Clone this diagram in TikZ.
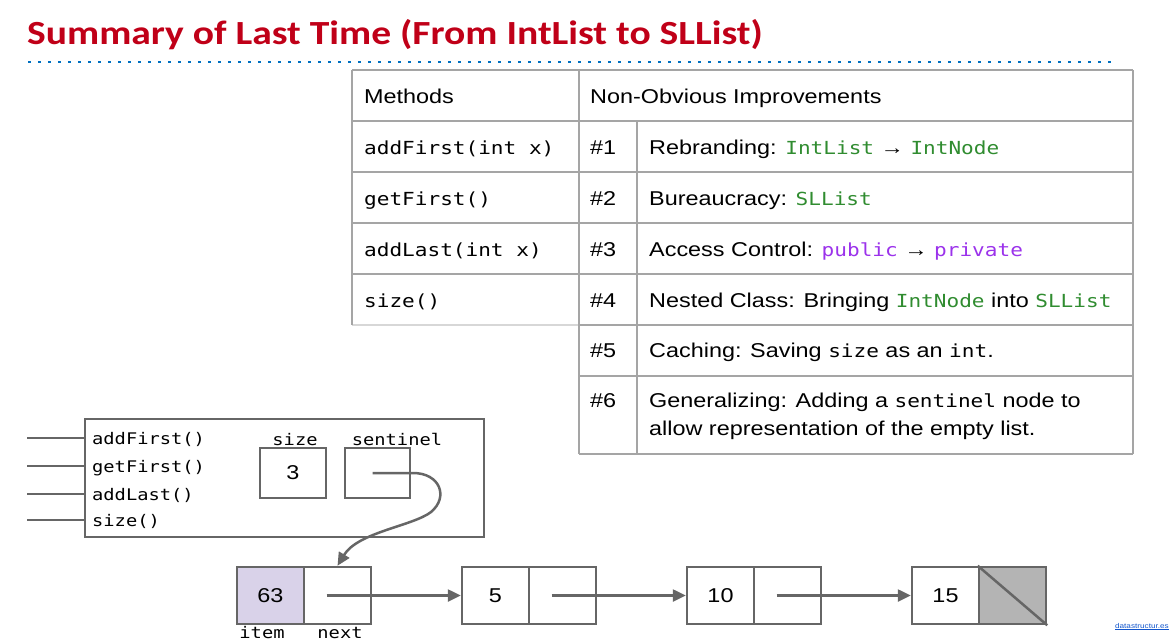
\documentclass[tikz,border=0pt]{standalone}
\usepackage{fontspec}
\setmainfont{Liberation Sans}[FakeStretch=1.17]
\newfontfamily\titlefont{Carlito}[FakeStretch=1.17]
\newfontfamily\cmono{DejaVu Sans Mono}[FakeStretch=1.17]
\usetikzlibrary{arrows.meta}
\definecolor{titlered}{RGB}{192,0,24}
\definecolor{dotblue}{RGB}{0,112,192}
\definecolor{tabline}{RGB}{165,165,165}
\definecolor{tablight}{RGB}{215,215,215}
\definecolor{boxline}{RGB}{102,102,102}
\definecolor{codegreen}{RGB}{48,140,48}
\definecolor{codepurple}{RGB}{155,50,235}
\definecolor{itemfill}{RGB}{217,210,233}
\definecolor{nullfill}{RGB}{180,180,180}
\definecolor{linkblue}{RGB}{17,85,204}
\newcommand{\tg}[1]{{\cmono\fontsize{18}{22}\selectfont\color{codegreen}#1}}
\newcommand{\tp}[1]{{\cmono\fontsize{18}{22}\selectfont\color{codepurple}#1}}
\newcommand{\tm}[1]{{\cmono\fontsize{18}{22}\selectfont #1}}
\tikzset{
  tab/.style={draw=tabline, line width=1.3pt},
  ttext/.style={anchor=base west, inner sep=0pt, font=\fontsize{20}{28}\selectfont},
  mtext/.style={anchor=base west, inner sep=0pt, font=\cmono\fontsize{18}{22}\selectfont},
  ltext/.style={anchor=base west, inner sep=0pt, font=\cmono\fontsize{16}{20}\selectfont},
  clabel/.style={anchor=base, inner sep=0pt, font=\cmono\fontsize{16}{20}\selectfont},
  gline/.style={draw=boxline, line width=2.5pt},
  cell/.style={gline, minimum width=67pt, minimum height=57pt, inner sep=0pt, font=\fontsize{20}{24}\selectfont},
  ptr/.style={gline, -{Triangle[length=13pt,width=12pt]}},
}
\begin{document}
\begin{tikzpicture}[x=1pt,y=-1pt]
\useasboundingbox (0,0) rectangle (1171,640);
% title
\node[anchor=base west, inner sep=0pt, text=titlered, font=\titlefont\bfseries\fontsize{33.8}{40}\selectfont] (title) at (27,44) {Summary of Last Time (From IntList to SLList)};
\draw[dotblue, line width=2.6pt, dash pattern=on 2.6pt off 7.4pt] (28,62) -- (1116,62);
% table lines
\draw[tab] (352,70) -- (1133,70);
\foreach \y in {121,172,223,274} \draw[tab] (352,\y) -- (1133,\y);
\draw[draw=tablight, line width=1.3pt] (352,325) -- (579,325);
\draw[tab] (579,325) -- (1133,325);
\draw[tab] (579,376) -- (1133,376);
\draw[tab] (579,454) -- (1133,454);
\draw[tab] (352,70) -- (352,325);
\draw[tab] (579,70) -- (579,454);
\draw[tab] (637,121) -- (637,454);
\draw[tab] (1133,70) -- (1133,454);
% table text
\node[ttext] (h1) at (364,103) {Methods};
\node[ttext] (h2) at (590,103) {Non-Obvious Improvements};
\node[mtext] (m1) at (364,154) {addFirst(int x)};
\node[mtext] (m2) at (364,205) {getFirst()};
\node[mtext] (m3) at (364,256) {addLast(int x)};
\node[mtext] (m4) at (364,307) {size()};
\node[ttext] (n1) at (590,154) {\#1};
\node[ttext] (n2) at (590,205) {\#2};
\node[ttext] (n3) at (590,256) {\#3};
\node[ttext] (n4) at (590,307) {\#4};
\node[ttext] (n5) at (590,357) {\#5};
\node[ttext] (n6) at (590,407) {\#6};
\node[ttext] (d1) at (649,154) {Rebranding: \tg{IntList} → \tg{IntNode}};
\node[ttext] (d2) at (649,205) {Bureaucracy: \tg{SLList}};
\node[ttext] (d3) at (649,256) {Access Control: \tp{public} → \tp{private}};
\node[ttext] (d4) at (649,307) {Nested Class: Bringing \tg{IntNode} into \tg{SLList}};
\node[ttext] (d5) at (649,357) {Caching: Saving \tm{size} as an \tm{int}.};
\node[ttext] (d6a) at (649,407) {Generalizing: Adding a \tm{sentinel} node to};
\node[ttext] (d6b) at (649,435) {allow representation of the empty list.};
% SLList box
\node[gline, minimum width=399pt, minimum height=118pt, inner sep=0pt] (sl) at (284.5,478) {};
\foreach \y/\t [count=\i] in {438/addFirst(),466/getFirst(),494/addLast(),520/size()} {
  \coordinate (e\i) at (27,\y);
  \draw[gline] (e\i) -- (e\i -| sl.west);
  \node[ltext] (lab\i) at (92,\y+6) {\t};
}
\node[clabel] (sizelab) at (295,445) {size};
\node[clabel] (sentlab) at (397,445) {sentinel};
\node[cell, minimum width=66pt, minimum height=50pt] (sizebox) at (293,473) {3};
\node[cell, minimum width=65pt, minimum height=50pt] (sent) at (377.5,473) {};
% list nodes
\node[cell, fill=itemfill] (i1) at (270.5,595.5) {63};
\node[cell] (x1) at (337.5,595.5) {};
\node[cell] (i2) at (495.5,595.5) {5};
\node[cell] (x2) at (562.5,595.5) {};
\node[cell] (i3) at (720.5,595.5) {10};
\node[cell] (x3) at (787.5,595.5) {};
\node[cell] (i4) at (945.5,595.5) {15};
\node[cell, fill=nullfill] (x4) at (1012.5,595.5) {};
\draw[gline] (x4.north west) -- (x4.south east);
\node[clabel] (itemlab) at (262,638) {item};
\node[clabel] (nextlab) at (340,638) {next};
% pointers
\draw[ptr] ([xshift=-11pt]x1.center) -- (i2.west);
\draw[ptr] ([xshift=-11pt]x2.center) -- (i3.west);
\draw[ptr] ([xshift=-11pt]x3.center) -- (i4.west);
\coordinate (sc) at (413,473);
\coordinate (sm) at (431,512);
\draw[ptr] ([xshift=-5pt]sent.center) -- (sc) .. controls (440,473) and (449,497) .. (sm) .. controls (413,526) and (358,532) .. (x1.north);
% footer link
\node[anchor=base east, inner sep=0pt, text=linkblue, font=\fontsize{7}{8}\selectfont] (link) at (1169,628) {\underline{datastructur.es}};
\end{tikzpicture}
\end{document}
